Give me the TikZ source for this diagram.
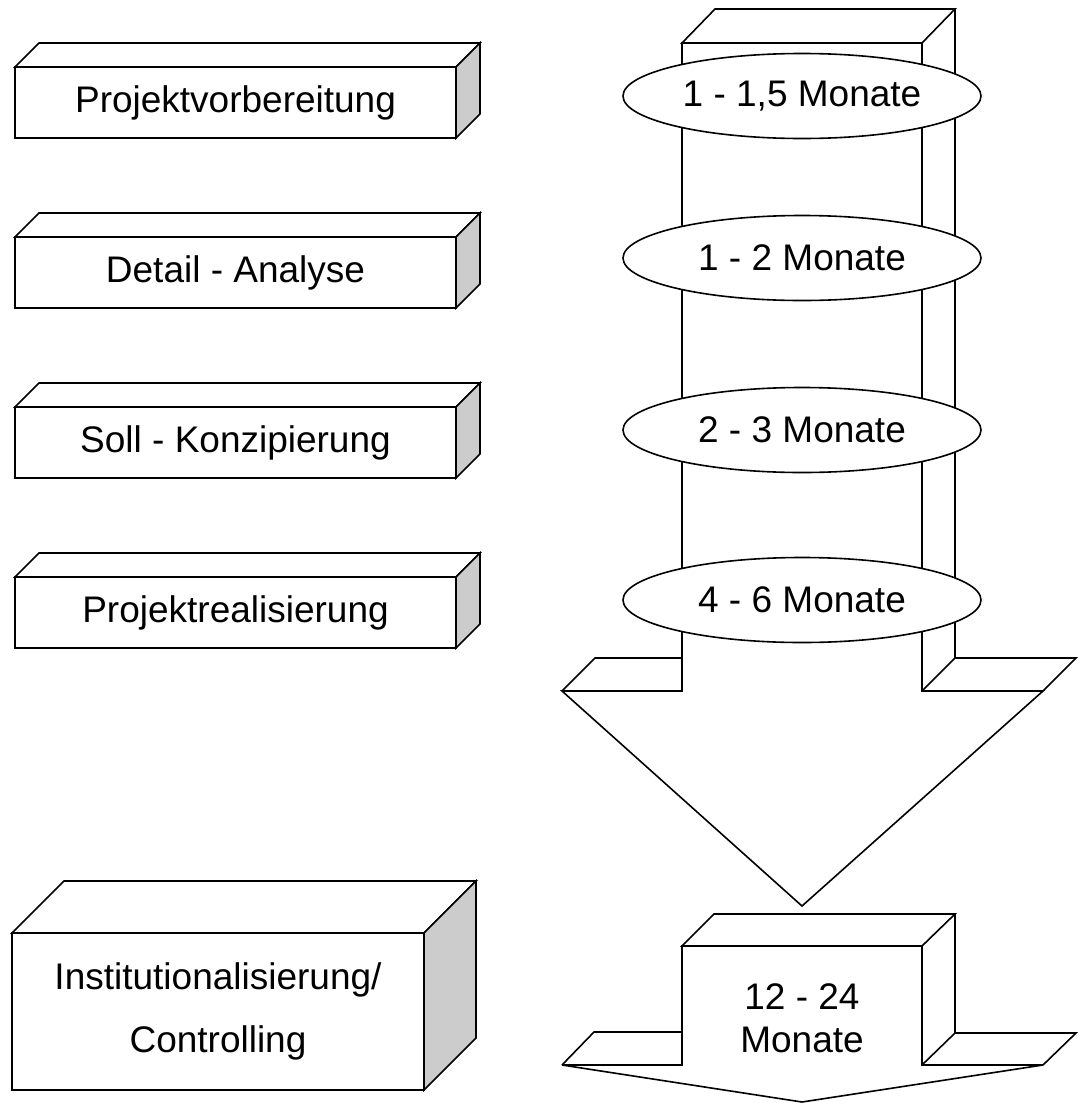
\documentclass[tikz,border=0pt]{standalone}
\usepackage{fontspec}
\setmainfont{Liberation Sans}
\usetikzlibrary{positioning, shapes.geometric}

\begin{document}
\begin{tikzpicture}[
        x=1pt, y=-1pt,
        node distance=99pt,
        line width=1.6pt,
        every node/.style={font=\fontsize{37}{43}\selectfont},
        stage/.style={draw, fill=white, minimum width=441pt, minimum height=71pt,
                      inner sep=0pt, outer sep=0pt, align=center},
        dur/.style={draw, ellipse, fill=white, minimum width=358pt, minimum height=85pt,
                    inner sep=0pt},
        topface/.style={draw, fill=white},
        sideface/.style={draw, fill=black!20}
    ]
    \useasboundingbox (0,0) rectangle (1079,1103);

    % Phasen links
    \node[stage] (prep)   at (235.5,102.5)  {Projektvorbereitung};
    \node[stage] (detail) [below=of prep]   {Detail - Analyse};
    \node[stage] (soll)   [below=of detail] {Soll - Konzipierung};
    \node[stage] (real)   [below=of soll]   {Projektrealisierung};

    \foreach \n in {prep, detail, soll, real} {
        \draw[topface]  (\n.north west) -- ++(24,-24) -- ++(441,0) -- (\n.north east) -- cycle;
        \draw[sideface] (\n.north east) -- ++(24,-24) -- ++(0,71) -- (\n.south east) -- cycle;
    }

    \node[stage, minimum width=412pt, minimum height=157pt,
          font=\fontsize{37}{63}\selectfont] (inst) at (218,1011.5)
        {Institutionalisierung/\\Controlling};
    \draw[topface]  (inst.north west) -- ++(52,-52) -- ++(412,0) -- (inst.north east) -- cycle;
    \draw[sideface] (inst.north east) -- ++(52,-52) -- ++(0,157) -- (inst.south east) -- cycle;

    % Zeitpfeil
    \draw[fill=white] (682,43) -- (682,691) -- (562,691) -- (802,906) -- (1043,691)
        -- (922,691) -- (922,43) -- cycle;
    \draw[topface] (682,43) -- (715,9) -- (955,9) -- (922,43) -- cycle;
    \draw (955,9) -- (955,658) -- (922,691);
    \draw (562,691) -- (595,658) -- (682,658);
    \draw (955,658) -- (1076,658) -- (1043,691);

    \node[dur] (d1) at (802,96)  {1 - 1,5 Monate};
    \node[dur] (d2) at (802,258) {1 - 2 Monate};
    \node[dur] (d3) at (802,430) {2 - 3 Monate};
    \node[dur] (d4) at (802,600) {4 - 6 Monate};

    % Gesamtdauer
    \draw[fill=white] (682,946) -- (682,1065) -- (562,1065) -- (802,1102) -- (1043,1065)
        -- (922,1065) -- (922,946) -- cycle;
    \draw[topface] (682,946) -- (714,914) -- (955,914) -- (922,946) -- cycle;
    \draw (955,914) -- (955,1033) -- (922,1065);
    \draw (562,1065) -- (594,1032) -- (682,1032);
    \draw (955,1033) -- (1076,1033) -- (1043,1065);

    \node[align=center] (total) at (802,1018) {12 - 24\\Monate};
\end{tikzpicture}
\end{document}
